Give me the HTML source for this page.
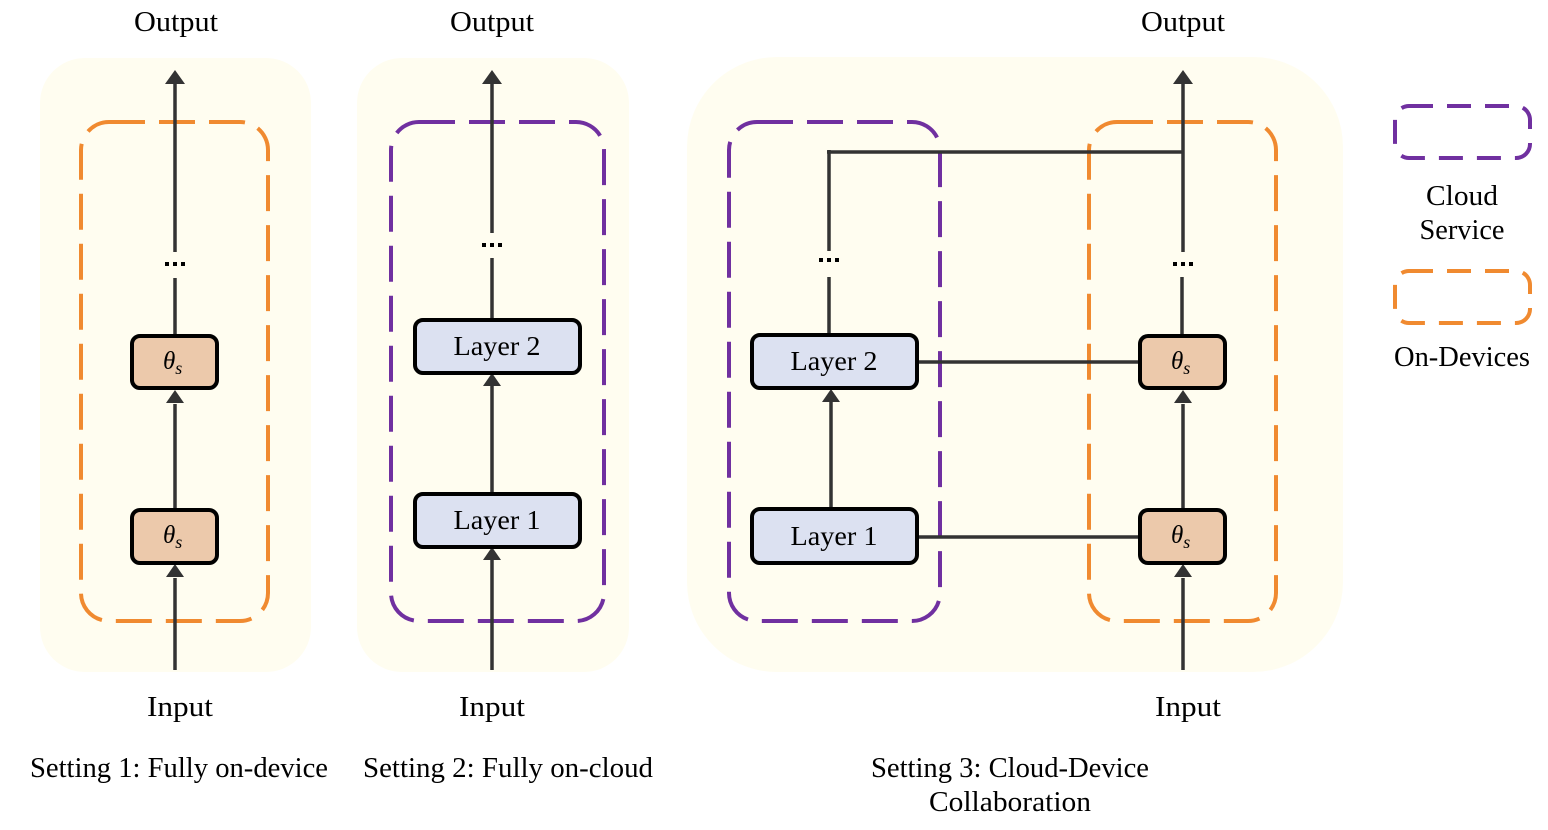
<!DOCTYPE html>
<html><head><meta charset="utf-8"><style>
html,body{margin:0;padding:0;background:#fff;}
svg{display:block;}
text{font-family:"Liberation Serif",serif;fill:#000;}
</style></head><body>
<svg width="1548" height="830" viewBox="0 0 1548 830" xmlns="http://www.w3.org/2000/svg">
<g fill="#fffdf0">
<rect x="40" y="58" width="271" height="614" rx="45"/>
<rect x="357" y="58" width="272" height="614" rx="45"/>
<rect x="687" y="57" width="656" height="615" rx="90"/>
</g>
<g fill="none" stroke-width="4" stroke-dasharray="36 14">
<rect x="81" y="122" width="187" height="499" rx="28" stroke="#f08a30"/>
<rect x="391" y="122" width="213" height="499" rx="28" stroke="#7030a0"/>
<rect x="729" y="122" width="211" height="499" rx="28" stroke="#7030a0"/>
<rect x="1089" y="122" width="187" height="499" rx="28" stroke="#f08a30"/>
<rect x="1395" y="106" width="135" height="52" rx="14" stroke="#7030a0" stroke-dasharray="24 14"/>
<rect x="1395" y="271" width="135" height="52" rx="14" stroke="#f08a30" stroke-dasharray="24 14"/>
</g>
<g stroke="#333" stroke-width="3.5" fill="none">
<line x1="175" y1="670" x2="175" y2="578"/>
<line x1="175" y1="510" x2="175" y2="404"/>
<line x1="175" y1="336" x2="175" y2="278"/>
<line x1="175" y1="252" x2="175" y2="84"/>
<line x1="492" y1="670" x2="492" y2="560"/>
<line x1="492" y1="494" x2="492" y2="386"/>
<line x1="492" y1="320" x2="492" y2="258"/>
<line x1="492" y1="233" x2="492" y2="84"/>
<line x1="831" y1="509" x2="831" y2="402"/>
<line x1="829" y1="335" x2="829" y2="277"/>
<line x1="829" y1="251" x2="829" y2="150"/>
<line x1="827" y1="152" x2="1184" y2="152"/>
<line x1="1183" y1="670" x2="1183" y2="578"/>
<line x1="1183" y1="510" x2="1183" y2="404"/>
<line x1="1182" y1="335" x2="1182" y2="277"/>
<line x1="1183" y1="252" x2="1183" y2="84"/>
<line x1="917" y1="362" x2="1141" y2="362"/>
<line x1="917" y1="537" x2="1141" y2="537"/>
</g>
<g fill="#333">
<polygon points="175,70 165,84 185,84"/>
<polygon points="175,390 166,403 184,403"/>
<polygon points="175,564 166,577 184,577"/>
<polygon points="492,70 482,84 502,84"/>
<polygon points="492,373 483,386 501,386"/>
<polygon points="492,547 483,560 501,560"/>
<polygon points="831,389 822,402 840,402"/>
<polygon points="1183,70 1173,84 1193,84"/>
<polygon points="1183,390 1174,403 1192,403"/>
<polygon points="1183,564 1174,577 1192,577"/>
</g>
<g fill="#000">
<rect x="165" y="262" width="4" height="4"/><rect x="173" y="262" width="4" height="4"/><rect x="181" y="262" width="4" height="4"/>
<rect x="482" y="243" width="4" height="4"/><rect x="490" y="243" width="4" height="4"/><rect x="498" y="243" width="4" height="4"/>
<rect x="819" y="258" width="4" height="4"/><rect x="827" y="258" width="4" height="4"/><rect x="835" y="258" width="4" height="4"/>
<rect x="1173" y="262" width="4" height="4"/><rect x="1181" y="262" width="4" height="4"/><rect x="1189" y="262" width="4" height="4"/>
</g>
<g stroke="#000" stroke-width="4">
<rect x="132" y="336" width="85" height="52" rx="8" fill="#ecc9ab"/>
<rect x="132" y="510" width="85" height="53" rx="8" fill="#ecc9ab"/>
<rect x="1140" y="336" width="85" height="52" rx="8" fill="#ecc9ab"/>
<rect x="1140" y="510" width="85" height="53" rx="8" fill="#ecc9ab"/>
<rect x="415" y="320" width="165" height="53" rx="8" fill="#dce1f1"/>
<rect x="415" y="494" width="165" height="53" rx="8" fill="#dce1f1"/>
<rect x="752" y="335" width="165" height="53" rx="8" fill="#dce1f1"/>
<rect x="752" y="509" width="165" height="54" rx="8" fill="#dce1f1"/>
</g>
<g font-size="27" text-anchor="middle">
<text x="497" y="355" textLength="87" lengthAdjust="spacingAndGlyphs">Layer 2</text>
<text x="497" y="529" textLength="87" lengthAdjust="spacingAndGlyphs">Layer 1</text>
<text x="834" y="370" textLength="87" lengthAdjust="spacingAndGlyphs">Layer 2</text>
<text x="834" y="545" textLength="87" lengthAdjust="spacingAndGlyphs">Layer 1</text>
</g>
<g font-size="28" text-anchor="middle">
<text x="176" y="31" textLength="84" lengthAdjust="spacingAndGlyphs">Output</text>
<text x="492" y="31" textLength="84" lengthAdjust="spacingAndGlyphs">Output</text>
<text x="1183" y="31" textLength="84" lengthAdjust="spacingAndGlyphs">Output</text>
<text x="180" y="716" textLength="66" lengthAdjust="spacingAndGlyphs">Input</text>
<text x="492" y="716" textLength="66" lengthAdjust="spacingAndGlyphs">Input</text>
<text x="1188" y="716" textLength="66" lengthAdjust="spacingAndGlyphs">Input</text>
<text x="179" y="777" textLength="298" lengthAdjust="spacingAndGlyphs">Setting 1: Fully on-device</text>
<text x="508" y="777" textLength="290" lengthAdjust="spacingAndGlyphs">Setting 2: Fully on-cloud</text>
<text x="1010" y="777" textLength="278" lengthAdjust="spacingAndGlyphs">Setting 3: Cloud-Device</text>
<text x="1010" y="811" textLength="162" lengthAdjust="spacingAndGlyphs">Collaboration</text>
<text x="1462" y="205" textLength="72" lengthAdjust="spacingAndGlyphs">Cloud</text>
<text x="1462" y="239" textLength="85" lengthAdjust="spacingAndGlyphs">Service</text>
<text x="1462" y="366" textLength="136" lengthAdjust="spacingAndGlyphs">On-Devices</text>
</g>
<g font-size="25" font-style="italic">
<text x="163" y="369">θ<tspan font-size="18" dy="5">s</tspan></text>
<text x="163" y="543">θ<tspan font-size="18" dy="5">s</tspan></text>
<text x="1171" y="369">θ<tspan font-size="18" dy="5">s</tspan></text>
<text x="1171" y="543">θ<tspan font-size="18" dy="5">s</tspan></text>
</g>
</svg>
</body></html>
